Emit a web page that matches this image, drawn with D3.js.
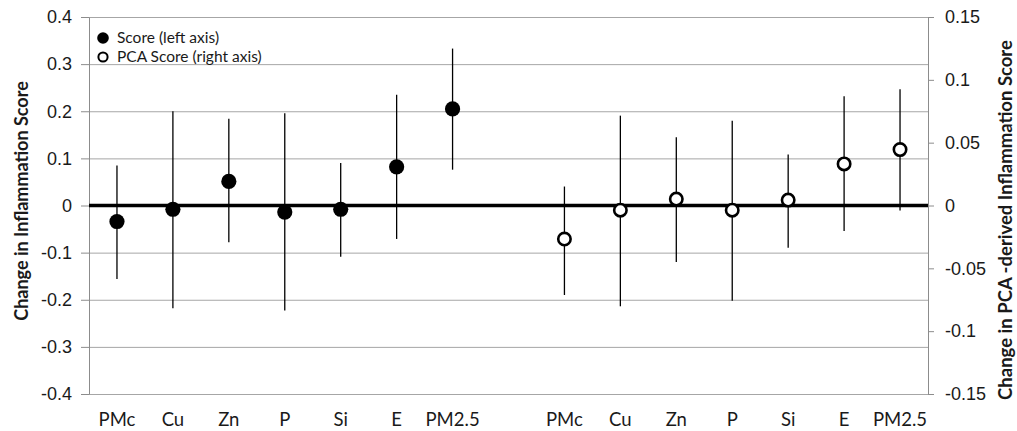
<!DOCTYPE html>
<html>
<head>
<meta charset="utf-8">
<script src="https://cdn.jsdelivr.net/npm/d3@7"></script>
<style>
  html, body { margin: 0; padding: 0; background: #fff; }
  svg { display: block; font-family: Lato, "Open Sans", sans-serif; }
  .axis path, .axis line { stroke: #8c8c8c; }
  .axis text { fill: #1a1a1a; font-size: 18px; }
  .grid line { stroke: #a6a6a6; }
  .grid path { display: none; }
</style>
</head>
<body>
<svg id="chart" width="1017" height="431"></svg>
<script>
// ── Data ──────────────────────────────────────────────────────────────────────

const categories = ['PMc', 'Cu', 'Zn', 'P', 'Si', 'E', 'PM2.5'];

// score, left axis
const scoreMean = [-0.034, -0.008, 0.051, -0.014, -0.008, 0.082, 0.205];
const scoreLow  = [-0.156, -0.218, -0.078, -0.223, -0.109, -0.071, 0.076];
const scoreHigh = [0.085, 0.200, 0.184, 0.196, 0.090, 0.235, 0.333];

// PCA score, right axis
const pcaMean = [-0.0267, -0.0037, 0.0051, -0.0037, 0.0043, 0.0331, 0.0445];
const pcaLow  = [-0.0712, -0.0802, -0.0450, -0.0757, -0.0336, -0.0203, -0.0040];
const pcaHigh = [0.0151, 0.0715, 0.0543, 0.0675, 0.0405, 0.0869, 0.0925];

const leftTicks   = [0.4, 0.3, 0.2, 0.1, 0, -0.1, -0.2, -0.3, -0.4];
const leftLabels  = ['0.4', '0.3', '0.2', '0.1', '0', '-0.1', '-0.2', '-0.3', '-0.4'];
const rightTicks  = [0.15, 0.1, 0.05, 0, -0.05, -0.1, -0.15];
const rightLabels = ['0.15', '0.1', '0.05', '0', '-0.05', '-0.1', '-0.15'];

const legendItems = ['Score (left axis)', 'PCA Score (right axis)'];

// ── Layout ────────────────────────────────────────────────────────────────────

const svg = d3.select('#chart');
const plot = { left: 89, right: 928, top: 17, bottom: 394 };

// left group, an empty slot, then the right group
const slots = [
  ...categories.map((c, i) => 'L' + i),
  'gap',
  ...categories.map((c, i) => 'R' + i),
];

const x = d3.scalePoint()
  .domain(slots)
  .range([plot.left, plot.right])
  .padding(0.5);

const yL = d3.scaleLinear().domain([-0.4, 0.4]).range([plot.bottom, plot.top]);
const yR = d3.scaleLinear().domain([-0.15, 0.15]).range([plot.bottom, plot.top]);

// ── Grid & axes ───────────────────────────────────────────────────────────────

svg.append('g')
  .attr('class', 'grid')
  .attr('transform', `translate(${plot.left},0)`)
  .call(d3.axisLeft(yL).tickValues(leftTicks).tickSize(-(plot.right - plot.left)).tickFormat(''));

svg.append('g')
  .attr('class', 'axis')
  .attr('transform', `translate(${plot.left},0)`)
  .call(d3.axisLeft(yL).tickValues(leftTicks).tickSizeInner(8).tickSizeOuter(0).tickPadding(9)
    .tickFormat((d, i) => leftLabels[i]));

svg.append('g')
  .attr('class', 'axis')
  .attr('transform', `translate(${plot.right},0)`)
  .call(d3.axisRight(yR).tickValues(rightTicks).tickSizeInner(6).tickSizeOuter(0).tickPadding(11)
    .tickFormat((d, i) => rightLabels[i]));

svg.selectAll('.axis .domain').attr('stroke', '#8c8c8c');

// zero line
svg.append('line')
  .attr('x1', plot.left).attr('x2', plot.right)
  .attr('y1', yL(0)).attr('y2', yL(0))
  .attr('stroke', '#000')
  .attr('stroke-width', 3.4);

// category labels
svg.append('g')
  .selectAll('text')
  .data(slots.filter(s => s !== 'gap'))
  .join('text')
  .attr('x', d => x(d))
  .attr('y', 426)
  .attr('text-anchor', 'middle')
  .attr('font-size', '18.5px')
  .attr('fill', '#1a1a1a')
  .text(d => categories[+d.slice(1)]);

// ── Series ────────────────────────────────────────────────────────────────────

const leftData = categories.map((c, i) => ({
  key: 'L' + i, mean: scoreMean[i], low: scoreLow[i], high: scoreHigh[i],
}));
const rightData = categories.map((c, i) => ({
  key: 'R' + i, mean: pcaMean[i], low: pcaLow[i], high: pcaHigh[i],
}));

function drawBars(data, y) {
  svg.append('g')
    .selectAll('line')
    .data(data)
    .join('line')
    .attr('x1', d => x(d.key)).attr('x2', d => x(d.key))
    .attr('y1', d => y(d.low)).attr('y2', d => y(d.high))
    .attr('stroke', '#000')
    .attr('stroke-width', 1.3);
}

drawBars(leftData, yL);
drawBars(rightData, yR);

svg.append('g')
  .selectAll('circle')
  .data(leftData)
  .join('circle')
  .attr('cx', d => x(d.key))
  .attr('cy', d => yL(d.mean))
  .attr('r', 7.6)
  .attr('fill', '#000');

svg.append('g')
  .selectAll('circle')
  .data(rightData)
  .join('circle')
  .attr('cx', d => x(d.key))
  .attr('cy', d => yR(d.mean))
  .attr('r', 6.2)
  .attr('fill', '#fff')
  .attr('stroke', '#000')
  .attr('stroke-width', 2.6);

// ── Legend ────────────────────────────────────────────────────────────────────

const legend = svg.append('g').attr('transform', 'translate(103,38)');

legend.append('circle').attr('cx', 0).attr('cy', 0).attr('r', 5.8).attr('fill', '#000');
legend.append('circle').attr('cx', 0).attr('cy', 19).attr('r', 4.6)
  .attr('fill', '#fff').attr('stroke', '#000').attr('stroke-width', 2);

legend.selectAll('text')
  .data(legendItems)
  .join('text')
  .attr('x', 14)
  .attr('y', (d, i) => i * 19 + 5)
  .attr('font-size', '15.5px')
  .attr('fill', '#1a1a1a')
  .text(d => d);

// ── Axis titles ───────────────────────────────────────────────────────────────

svg.append('text')
  .attr('transform', 'translate(28,201) rotate(-90)')
  .attr('text-anchor', 'middle')
  .attr('font-size', '18px')
  .attr('font-weight', 'bold')
  .attr('fill', '#1a1a1a')
  .text('Change in Inflammation Score');

svg.append('text')
  .attr('transform', 'translate(1012,220) rotate(-90)')
  .attr('text-anchor', 'middle')
  .attr('font-size', '18.5px')
  .attr('font-weight', 'bold')
  .attr('fill', '#1a1a1a')
  .text('Change in PCA -derived Inflammation Score');
</script>
</body>
</html>
